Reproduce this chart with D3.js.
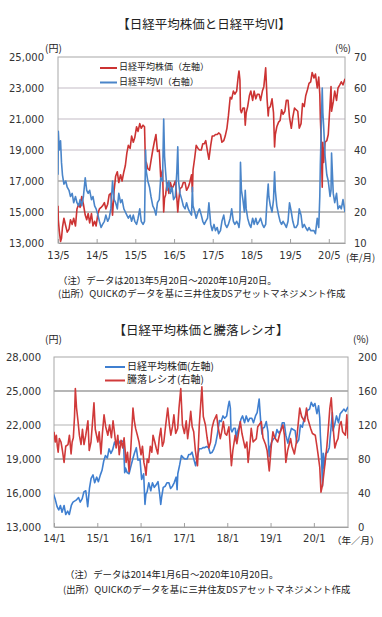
<!DOCTYPE html>
<html><head><meta charset="utf-8">
<script src="https://cdn.jsdelivr.net/npm/d3@7"></script>
<style>body{margin:0;background:#fff}svg{display:block}</style>
</head><body>
<svg id="c" width="382" height="617"></svg>
<script>
// ---------- Chart 1: 日経平均株価と日経平均VI ----------
const topDates = [
 "2013-05-20","2013-05-23","2013-06-01","2013-06-13","2013-06-22","2013-07-01","2013-07-15","2013-08-01","2013-08-15","2013-09-01","2013-09-15","2013-10-01","2013-10-15","2013-11-01","2013-11-15","2013-12-01","2013-12-15","2013-12-30",
 "2014-01-15","2014-02-01","2014-02-15","2014-03-01","2014-03-15","2014-04-01","2014-04-15","2014-05-01","2014-05-15","2014-06-01","2014-06-15","2014-07-01","2014-07-15","2014-08-01","2014-08-15","2014-09-01","2014-09-15","2014-10-01","2014-10-17","2014-11-01","2014-11-15","2014-12-01","2014-12-15",
 "2015-01-01","2015-01-15","2015-02-01","2015-02-15","2015-03-01","2015-03-15","2015-04-01","2015-04-15","2015-05-01","2015-05-15","2015-06-01","2015-06-15","2015-07-01","2015-07-15","2015-08-01","2015-08-15","2015-08-25","2015-09-01","2015-09-15","2015-10-01","2015-10-15","2015-11-01","2015-11-15","2015-12-01","2015-12-15",
 "2016-01-01","2016-01-15","2016-02-01","2016-02-12","2016-02-20","2016-03-01","2016-03-15","2016-04-01","2016-04-15","2016-05-01","2016-05-15","2016-06-01","2016-06-15","2016-06-24","2016-07-01","2016-07-15","2016-08-01","2016-08-15","2016-09-01","2016-09-15","2016-10-01","2016-10-15","2016-11-01","2016-11-09","2016-11-15","2016-12-01","2016-12-15",
 "2017-01-01","2017-01-15","2017-02-01","2017-02-15","2017-03-01","2017-03-15","2017-04-01","2017-04-14","2017-05-01","2017-05-15","2017-06-01","2017-06-15","2017-07-01","2017-07-15","2017-08-01","2017-08-15","2017-09-01","2017-09-15","2017-10-01","2017-10-15","2017-11-01","2017-11-15","2017-12-01","2017-12-15",
 "2018-01-01","2018-01-15","2018-01-23","2018-02-01","2018-02-06","2018-02-15","2018-03-01","2018-03-15","2018-03-23","2018-04-01","2018-04-15","2018-05-01","2018-05-15","2018-06-01","2018-06-15","2018-07-01","2018-07-15","2018-08-01","2018-08-15","2018-09-01","2018-09-15","2018-10-02","2018-10-15","2018-10-26","2018-11-01","2018-11-15","2018-12-01","2018-12-15","2018-12-25",
 "2019-01-01","2019-01-15","2019-02-01","2019-02-15","2019-03-01","2019-03-15","2019-04-01","2019-04-15","2019-05-01","2019-05-15","2019-06-01","2019-06-15","2019-07-01","2019-07-15","2019-08-01","2019-08-15","2019-09-01","2019-09-15","2019-10-01","2019-10-15","2019-11-01","2019-11-15","2019-12-01","2019-12-15",
 "2020-01-01","2020-01-15","2020-02-01","2020-02-15","2020-02-25","2020-03-01","2020-03-09","2020-03-19","2020-03-25","2020-04-01","2020-04-15","2020-05-01","2020-05-15","2020-06-01","2020-06-10","2020-06-15","2020-07-01","2020-07-15","2020-08-01","2020-08-15","2020-09-01","2020-09-15","2020-10-01","2020-10-20"
];
const topNikkei = [
 15400,14500,13800,13100,13300,14000,14600,14100,13700,13900,14500,14200,14600,14100,15200,15500,15300,16000,
 15500,14800,14500,14900,14300,14900,14100,14400,14100,14900,15200,15300,15400,15600,15200,15500,16100,16200,14800,16400,17300,17600,16900,
 17400,17000,17600,18000,18800,19300,19100,19900,19500,19800,20500,20200,20700,20400,20600,20500,17800,18200,17800,17700,18300,19000,19500,20000,18900,
 19000,17200,17700,15000,15900,16100,16900,16200,16900,16500,16700,17000,15900,15000,15600,16500,16600,16900,16900,16400,16600,16900,17400,16300,17700,18500,19300,
 19100,19000,19000,19400,19400,19600,18900,18400,19300,19900,19900,20000,20000,20100,20000,19500,19600,19900,20400,21200,22400,22300,22800,22600,
 22800,23700,24100,23500,21600,21400,21700,21700,20600,21400,21800,22500,22800,22200,22800,22300,22600,22600,22200,22800,23100,24300,22300,21200,21700,21800,22300,21400,19200,
 20000,20500,20800,20900,21600,21300,21500,22200,22200,21100,20400,21100,21700,21600,21500,20400,20700,22000,21800,22500,22900,23300,23400,24000,
 23650,23900,23000,23700,22600,21100,19700,16600,19500,18200,19500,19600,20000,22000,23100,21500,22100,22800,22200,23000,23200,23400,23200,23600
];
const topVI = [
 32,46,40,43,36,32,29,30,28,27,25,26,23,25,23,22,24,22,
 25,31,27,26,27,24,25,22,21,19,17,15,16,17,19,17,18,21,30,24,23,21,26,
 23,24,21,20,19,18,19,17,19,17,16,18,21,17,16,17,40,33,30,28,25,22,21,19,23,
 24,31,30,50,38,33,27,30,26,28,24,25,33,41,30,26,24,22,21,23,21,20,19,28,22,20,18,
 20,21,19,17,16,17,18,23,16,14,16,14,15,13,14,17,19,16,15,16,18,21,17,16,
 17,16,15,18,36,27,24,20,27,21,18,16,15,18,16,18,16,17,18,16,15,16,24,29,25,22,20,24,33,
 27,22,19,17,16,17,16,15,17,23,20,17,15,15,16,21,19,15,16,15,14,15,14,14,
 14,13,18,15,25,35,46,60,52,48,38,32,30,25,27,39,26,23,26,21,22,21,24,20
];
const topXTicks = ["2013-05-20","2014-05-20","2015-05-20","2016-05-20","2017-05-20","2018-05-20","2019-05-20","2020-05-20"];
const topXLabels = ["13/5","14/5","15/5","16/5","17/5","18/5","19/5","20/5"];
const topYLeft = [13000,15000,17000,19000,21000,23000,25000];
const topYRight = [10,20,30,40,50,60,70];

// ---------- Chart 2: 日経平均株価と騰落レシオ ----------
const ratioDates = [
 "2014-01-06","2014-01-16","2014-01-26","2014-02-03","2014-02-10","2014-02-20","2014-03-06","2014-03-18","2014-04-01","2014-04-15","2014-05-04","2014-05-16","2014-05-30","2014-06-08","2014-06-18","2014-06-28","2014-07-05","2014-07-15","2014-07-27","2014-08-08","2014-08-22","2014-09-03","2014-09-16","2014-10-01","2014-10-19","2014-10-30","2014-11-14","2014-11-25","2014-12-09","2014-12-20",
 "2015-01-11","2015-01-22","2015-02-06","2015-02-18","2015-03-04","2015-03-18","2015-04-05","2015-04-20","2015-05-05","2015-05-19","2015-06-01","2015-06-14","2015-06-28","2015-07-10","2015-07-25","2015-08-08","2015-08-20","2015-09-06","2015-09-18","2015-10-01","2015-10-15","2015-11-03","2015-11-14","2015-11-25","2015-12-10","2015-12-24",
 "2016-01-10","2016-01-22","2016-02-03","2016-02-12","2016-02-21","2016-03-02","2016-03-14","2016-03-28","2016-04-10","2016-04-20","2016-05-05","2016-05-18","2016-05-30","2016-06-12","2016-06-25","2016-07-08","2016-07-20","2016-08-05","2016-08-22","2016-09-05","2016-09-17","2016-10-01","2016-10-13","2016-10-28","2016-11-14","2016-11-25","2016-12-10","2016-12-24",
 "2017-01-10","2017-01-25","2017-02-06","2017-02-20","2017-03-04","2017-03-16","2017-03-29","2017-04-12","2017-04-30","2017-05-15","2017-06-06","2017-06-18","2017-07-06","2017-07-20","2017-08-03","2017-08-18","2017-08-30","2017-09-15","2017-10-08","2017-10-20","2017-11-08","2017-11-20","2017-12-04","2017-12-18",
 "2018-01-01","2018-01-20","2018-02-10","2018-02-22","2018-03-14","2018-03-28","2018-04-26","2018-05-10","2018-06-05","2018-06-20","2018-07-01","2018-07-15","2018-07-27","2018-08-12","2018-09-08","2018-09-20","2018-10-20","2018-11-03","2018-11-25","2018-12-08","2018-12-26",
 "2019-01-12","2019-01-26","2019-02-10","2019-03-07","2019-03-25","2019-04-20","2019-05-03","2019-05-15","2019-05-30","2019-06-24","2019-07-05","2019-07-26","2019-08-12","2019-09-09","2019-09-25","2019-10-20","2019-11-05","2019-11-15","2019-12-10","2019-12-25",
 "2020-01-18","2020-02-01","2020-02-10","2020-02-25","2020-03-06","2020-03-20","2020-04-10","2020-04-25","2020-05-05","2020-05-20","2020-06-01","2020-06-15","2020-07-01","2020-07-15","2020-07-28","2020-08-10","2020-08-23","2020-09-05","2020-09-28","2020-10-10","2020-10-20"
];
const ratioValues = [
 112,100,108,95,88,104,100,90,76,95,97,108,86,100,105,130,163,140,125,108,97,115,97,108,125,90,100,120,146,115,
 100,112,86,110,132,118,108,120,105,125,110,93,108,85,102,93,105,76,88,65,90,140,125,116,108,100,
 85,95,76,70,61,80,76,95,88,108,100,92,86,105,116,95,100,120,140,120,108,118,132,110,116,140,163,120,
 110,125,104,120,136,118,112,90,72,120,165,130,120,105,93,100,116,125,132,118,104,112,124,110,
 108,118,72,90,108,98,124,110,93,100,76,95,116,100,104,118,124,105,97,90,66,
 95,112,105,100,110,120,108,76,90,104,95,86,100,140,130,124,140,128,116,110,
 108,95,86,70,41,50,76,95,112,140,152,120,93,100,104,120,124,112,108,132,104
];
const botXTicks = ["2014-01-06","2015-01-06","2016-01-06","2017-01-06","2018-01-06","2019-01-06","2020-01-06"];
const botXLabels = ["14/1","15/1","16/1","17/1","18/1","19/1","20/1"];
const botYLeft = [13000,16000,19000,22000,25000,28000];
const botYRight = [0,40,80,120,160,200];

// ---------- drawing ----------
const parse = d3.timeParse("%Y-%m-%d");
const NUM = "'DejaVu Sans', sans-serif";
const JP = "'Noto Sans CJK JP', 'Noto Sans CJK SC', sans-serif";
const svg = d3.select("#c");
const RED = "#cc3333", BLUE = "#4a85c9";

function panel(cfg) {
  const g = svg.append("g");
  const x = d3.scaleTime().domain(cfg.xDomain.map(parse)).range([cfg.L, cfg.R]);
  const yL = d3.scaleLinear().domain(d3.extent(cfg.yLeft)).range([cfg.B, cfg.T]);
  const yR = d3.scaleLinear().domain(d3.extent(cfg.yRight)).range([cfg.B, cfg.T]);

  cfg.yLeft.slice(1, -1).forEach(v => {
    g.append("line").attr("x1", cfg.L).attr("x2", cfg.R)
      .attr("y1", yL(v)).attr("y2", yL(v))
      .attr("stroke", cfg.gridColor(v)).attr("stroke-width", 1.2);
  });
  g.append("rect").attr("x", cfg.L).attr("y", cfg.T).attr("width", cfg.R - cfg.L).attr("height", cfg.B - cfg.T)
    .attr("fill", "none").attr("stroke", "#a8a8a8").attr("stroke-width", 1);

  const clipId = "clip" + cfg.id;
  svg.append("clipPath").attr("id", clipId).append("rect")
    .attr("x", cfg.L).attr("y", cfg.T).attr("width", cfg.R - cfg.L).attr("height", cfg.B - cfg.T);

  cfg.series.forEach(s => {
    const ys = s.axis === "L" ? yL : yR;
    const pts = s.dates.map((d, i) => ({ d: parse(d), v: s.values[i] }));
    g.append("path").datum(pts).attr("clip-path", `url(#${clipId})`)
      .attr("fill", "none").attr("stroke", s.color).attr("stroke-width", 1.6).attr("stroke-linejoin", "round")
      .attr("d", d3.line().x(p => x(p.d)).y(p => ys(p.v)));
  });

  const ax = d3.axisBottom(x).tickValues(cfg.xTicks.map(parse))
    .tickFormat((d, i) => cfg.xLabels[i]).tickSizeInner(-4).tickSizeOuter(0).tickPadding(cfg.xPad);
  const gx = g.append("g").attr("transform", `translate(0,${cfg.B})`).call(ax);
  gx.select(".domain").attr("stroke", "#a0a0a0");
  gx.selectAll(".tick line").attr("stroke", "#a0a0a0");
  gx.selectAll("text").attr("font-family", NUM).attr("font-size", 10).attr("fill", "#333");

  const al = d3.axisLeft(yL).tickValues(cfg.yLeft).tickFormat(d3.format(",")).tickSize(0).tickPadding(cfg.L - cfg.leftLabelX);
  const gl = g.append("g").attr("transform", `translate(${cfg.L},0)`).call(al);
  gl.select(".domain").remove();
  gl.selectAll("text").attr("font-family", NUM).attr("font-size", 10).attr("fill", "#333");

  const ar = d3.axisRight(yR).tickValues(cfg.yRight).tickSize(0).tickPadding(cfg.rightLabelX - cfg.R);
  const gr = g.append("g").attr("transform", `translate(${cfg.R},0)`).call(ar);
  gr.select(".domain").remove();
  gr.selectAll("text").attr("font-family", NUM).attr("font-size", 10).attr("fill", "#333");

  const t = (txt, xx, yy, size, anchor, fam) => g.append("text").text(txt).attr("x", xx).attr("y", yy)
      .attr("font-family", fam || JP).attr("font-size", size).attr("fill", "#222")
      .attr("text-anchor", anchor || "start").attr("dominant-baseline", "middle");
  t(cfg.title, cfg.titleX, cfg.titleY, 12.5, "middle");
  t("(円)", cfg.yenX, cfg.unitY, 10);
  t("(%)", cfg.pctX, cfg.unitY, 10);
  t(cfg.ymLabel, cfg.ymX, cfg.ymY, 9.5);
  cfg.legend.forEach((lg, i) => {
    const yy = cfg.legY + i * cfg.legDy;
    g.append("line").attr("x1", cfg.legX).attr("x2", cfg.legX + cfg.legW).attr("y1", yy).attr("y2", yy)
      .attr("stroke", lg.color).attr("stroke-width", 2);
    t(lg.label, cfg.legX + cfg.legW + 2, yy, cfg.legSize);
  });
  cfg.notes.forEach(n => t(n.text, n.x, n.y, 9.4));
}

panel({
  id: 1, L: 58, R: 345, T: 57, B: 243,
  xDomain: ["2013-05-20", "2020-10-20"],
  yLeft: topYLeft, yRight: topYRight,
  xTicks: topXTicks, xLabels: topXLabels, xPad: 9,
  leftLabelX: 44, rightLabelX: 354,
  gridColor: v => v >= 19000 ? "#c4bcc6" : "#7a7a7a",
  series: [
    { dates: topDates, values: topNikkei, axis: "L", color: RED },
    { dates: topDates, values: topVI, axis: "R", color: BLUE }
  ],
  title: "【日経平均株価と日経平均VI】", titleX: 204, titleY: 26,
  yenX: 45, pctX: 335, unitY: 49, ymLabel: "(年/月)", ymX: 346, ymY: 258,
  legend: [
    { label: "日経平均株価（左軸）", color: RED },
    { label: "日経平均VI（右軸）", color: BLUE }
  ],
  legX: 100, legW: 17, legY: 68, legDy: 14.5, legSize: 9,
  notes: [
    { text: "（注）データは2013年5月20日～2020年10月20日。", x: 58, y: 281 },
    { text: "(出所）QUICKのデータを基に三井住友DSアセットマネジメント作成", x: 58, y: 294 }
  ]
});

panel({
  id: 2, L: 54, R: 348, T: 357, B: 527,
  xDomain: ["2014-01-06", "2020-10-20"],
  yLeft: botYLeft, yRight: botYRight,
  xTicks: botXTicks, xLabels: botXLabels, xPad: 8,
  leftLabelX: 41, rightLabelX: 358,
  gridColor: v => (v === 25000 || v === 19000) ? "#6e6e6e" : "#b4b4b4",
  series: [
    { dates: topDates, values: topNikkei, axis: "L", color: "#3f7fd0" },
    { dates: ratioDates, values: ratioValues, axis: "R", color: "#d03a3a" }
  ],
  title: "【日経平均株価と騰落レシオ】", titleX: 201, titleY: 332,
  yenX: 45, pctX: 353, unitY: 340, ymLabel: "（年／月）", ymX: 332, ymY: 541,
  legend: [
    { label: "日経平均株価(左軸)", color: "#3f7fd0" },
    { label: "騰落レシオ(右軸)", color: "#d03a3a" }
  ],
  legX: 105, legW: 20, legY: 367, legDy: 13.5, legSize: 10,
  notes: [
    { text: "（注）データは2014年1月6日～2020年10月20日。", x: 65, y: 575 },
    { text: "(出所）QUICKのデータを基に三井住友DSアセットマネジメント作成", x: 63, y: 590 }
  ]
});
</script>
</body></html>
